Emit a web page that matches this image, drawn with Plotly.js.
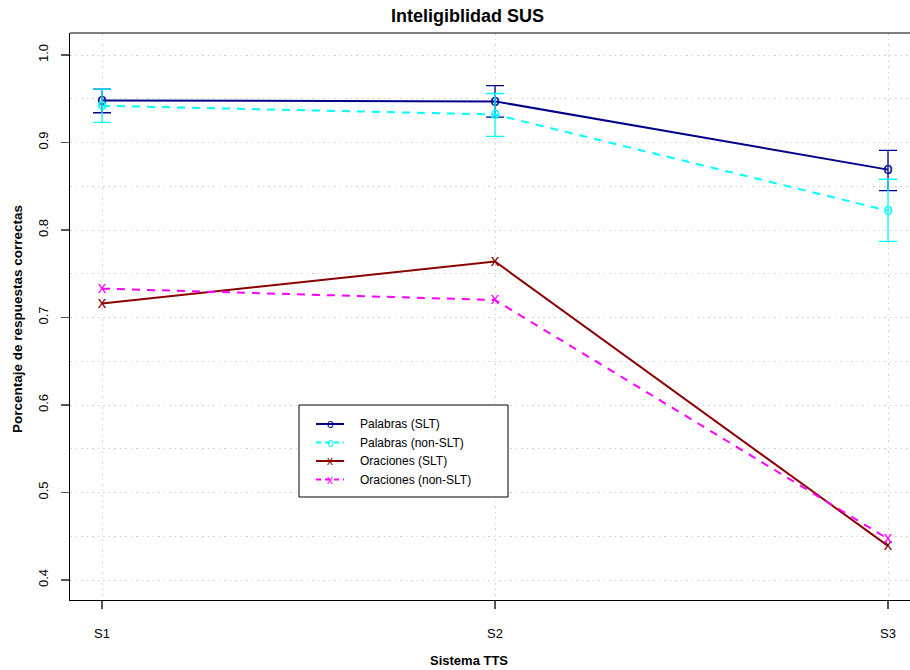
<!DOCTYPE html>
<html>
<head>
<meta charset="utf-8">
<script src="https://cdn.plot.ly/plotly-3.0.1.min.js"></script>
<style>
  html, body { margin: 0; padding: 0; background: #ffffff; overflow: hidden; }
  #chart { width: 910px; height: 670px; }
</style>
</head>
<body>
<div id="chart"></div>
<script>
// Test systems on the x axis
const sistemas = ['S1', 'S2', 'S3'];

// Series names
const nombres = ['Palabras (SLT)', 'Palabras (non-SLT)', 'Oraciones (SLT)', 'Oraciones (non-SLT)'];

// Word intelligibility, SLT listeners (mean with interval bounds)
const palabrasSLT = [0.948, 0.947, 0.869];
const palabrasSLTmin = [0.934, 0.929, 0.845];
const palabrasSLTmax = [0.961, 0.965, 0.891];

// Word intelligibility, non-SLT listeners
const palabrasNoSLT = [0.942, 0.932, 0.822];
const palabrasNoSLTmin = [0.923, 0.907, 0.787];
const palabrasNoSLTmax = [0.961, 0.956, 0.858];

// Sentence intelligibility
const oracionesSLT = [0.716, 0.764, 0.439];
const oracionesNoSLT = [0.733, 0.720, 0.447];

// Plotting characters used as point marks
const simbolos = ['o', 'o', 'x', 'x'];

const colores = ['#00008B', '#00FFFF', '#8B0000', '#FF00FF'];
const trazos = ['solid', '8px,7px', 'solid', '8px,7px'];

const FONT_N = '"Liberation Sans Narrow", "Arial Narrow", "Liberation Sans", sans-serif';
const FONT = '"Liberation Sans", Arial, sans-serif';

// plot area geometry (pixels) used for placing annotations/legend
const W = 910, H = 670;
const M = { l: 70, r: 0, t: 33, b: 70 };
const pw = W - M.l - M.r, ph = H - M.t - M.b;
const fx = px => (px - M.l) / pw;
const fy = py => (H - M.b - py) / ph;

function diffs(a, b) { return a.map((v, i) => v - b[i]); }

function serie(idx, y, lo, hi) {
  const t = {
    type: 'scatter',
    mode: 'lines+text',
    name: nombres[idx],
    x: sistemas,
    y: y,
    text: y.map(() => simbolos[idx]),
    textposition: 'middle center',
    textfont: { family: FONT_N, size: 17, color: colores[idx] },
    line: { color: colores[idx], width: 2, dash: trazos[idx] },
    showlegend: false,
    hoverinfo: 'x+y'
  };
  if (lo && hi) {
    t.error_y = {
      type: 'data', symmetric: false,
      array: diffs(hi, y), arrayminus: diffs(y, lo),
      color: colores[idx], thickness: 1.3, width: 9
    };
  }
  return t;
}

const data = [
  serie(0, palabrasSLT, palabrasSLTmin, palabrasSLTmax),
  serie(1, palabrasNoSLT, palabrasNoSLTmin, palabrasNoSLTmax),
  serie(2, oracionesSLT),
  serie(3, oracionesNoSLT)
];

// Hand-drawn legend box
const leg = { x0: 299, x1: 508, y0: 405, y1: 497, rows: [424, 442.5, 461, 479.5], lx0: 316, lx1: 344, tx: 358 };

const shapes = [
  // top frame line
  { type: 'line', xref: 'paper', yref: 'paper', x0: 0, x1: 1, y0: 1, y1: 1, line: { color: '#000', width: 1 } },
  { type: 'rect', xref: 'paper', yref: 'paper', x0: fx(leg.x0), x1: fx(leg.x1), y0: fy(leg.y1), y1: fy(leg.y0),
    line: { color: '#000', width: 1 }, fillcolor: '#ffffff', layer: 'above' }
];
const annotations = [
  { text: '<b>Inteligiblidad SUS</b>', xref: 'paper', yref: 'paper', x: fx(467), y: fy(16),
    showarrow: false, font: { family: FONT, size: 18, color: '#000' }, xanchor: 'center', yanchor: 'middle' },
  { text: '<b>Sistema TTS</b>', xref: 'paper', yref: 'paper', x: fx(469), y: fy(660),
    showarrow: false, font: { family: FONT_N, size: 13, color: '#000' }, xanchor: 'center', yanchor: 'middle' },
  { text: '<b>Porcentaje de respuestas correctas</b>', xref: 'paper', yref: 'paper', x: fx(17), y: fy(319),
    showarrow: false, textangle: -90, font: { family: FONT_N, size: 13.5, color: '#000' }, xanchor: 'center', yanchor: 'middle' }
];

nombres.forEach((n, i) => {
  const yy = fy(leg.rows[i]);
  shapes.push({ type: 'line', xref: 'paper', yref: 'paper', x0: fx(leg.lx0), x1: fx(leg.lx1), y0: yy, y1: yy,
    line: { color: colores[i], width: 2, dash: i % 2 ? '5px,4px' : 'solid' }, layer: 'above' });
  annotations.push({ text: simbolos[i], xref: 'paper', yref: 'paper', x: fx((leg.lx0 + leg.lx1) / 2), y: yy,
    showarrow: false, font: { family: FONT_N, size: 12, color: colores[i] }, xanchor: 'center', yanchor: 'middle' });
  annotations.push({ text: n, xref: 'paper', yref: 'paper', x: fx(leg.tx), y: yy,
    showarrow: false, font: { family: FONT_N, size: 12, color: '#000' }, xanchor: 'left', yanchor: 'middle' });
});

const grid = { showgrid: true, gridcolor: '#d2d2d2', griddash: '1.5px,4px', gridwidth: 1 };

const layout = {
  width: W, height: H,
  margin: M,
  paper_bgcolor: '#ffffff',
  plot_bgcolor: '#ffffff',
  showlegend: false,
  xaxis: Object.assign({
    type: 'category',
    range: [-32 / 393, 2 + 22 / 393],
    showline: true, linecolor: '#000', linewidth: 1,
    ticks: 'outside', ticklen: 8, tickcolor: '#555', tickwidth: 1.5,
    tickfont: { family: FONT, size: 13, color: '#000' },
    ticklabelstandoff: 13,
    zeroline: false, fixedrange: true
  }, grid),
  yaxis: Object.assign({
    range: [0.4 - 20 / 875, 1.0 + 22 / 875],
    tick0: 0.4, dtick: 0.1, tickformat: '.1f',
    showline: true, linecolor: '#000', linewidth: 1,
    ticks: 'outside', ticklen: 8, tickcolor: '#555', tickwidth: 1.5,
    tickangle: -90,
    tickfont: { family: FONT, size: 13, color: '#000' },
    ticklabelstandoff: 8,
    minor: Object.assign({ dtick: 0.05, ticks: '' }, grid),
    zeroline: false, fixedrange: true
  }, grid),
  shapes: shapes,
  annotations: annotations
};

Plotly.newPlot('chart', data, layout, { displayModeBar: false, staticPlot: true });
</script>
</body>
</html>
